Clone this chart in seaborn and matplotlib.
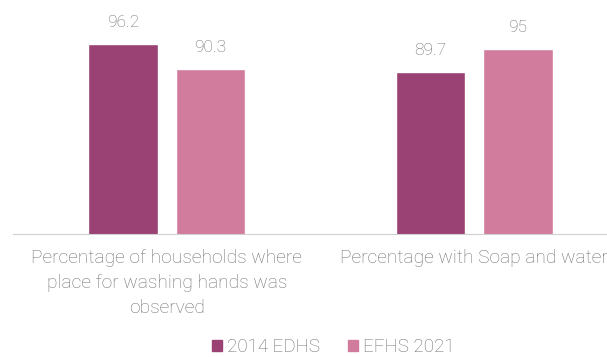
import pandas as pd
import numpy as np
import matplotlib.pyplot as plt
import seaborn as sns

categories = ["Percentage of households where\nplace for washing hands was\nobserved",
              "Percentage with Soap and water"]
series = ["2014 EDHS", "EFHS 2021"]
values_2014 = [96.2, 89.7]
values_2021 = [90.3, 95]

colors = ["#9a4274", "#d27c9d"]
text_color = "#707070"

df = pd.DataFrame({
    "category": categories * 2,
    "survey": [series[0]] * 2 + [series[1]] * 2,
    "value": values_2014 + values_2021,
})

sns.set_style("white")
plt.rcParams['font.family'] = ['Roboto', 'DejaVu Sans']
plt.rcParams['font.weight'] = 'light'

fig = plt.figure(figsize=(6.07, 3.57), dpi=100)
ax = fig.add_axes([13 / 607, 123 / 357, 615 / 607, 224 / 357])

sns.barplot(data=df, x="category", y="value", hue="survey", palette=colors,
            width=0.57, gap=0.21, ax=ax, legend=False, saturation=1)

ax.set_ylim(51.4, 104.2)
ax.set_xlim(-0.5, 1.5)
for c in ax.containers:
    ax.bar_label(c, labels=[f"{v:g}" for v in c.datavalues], padding=10,
                 fontsize=12.5, color=text_color)

ax.set_xlabel("")
ax.set_ylabel("")
ax.set_yticks([])
ax.tick_params(axis="x", length=0, pad=11, labelsize=13.8, labelcolor=text_color)
for lbl in ax.get_xticklabels():
    lbl.set_linespacing(1.5)
for side in ["top", "right", "left"]:
    ax.spines[side].set_visible(False)
ax.spines["bottom"].set_color("#d0d0d0")

handles = [plt.Rectangle((0, 0), 1, 1, color=c) for c in colors]
fig.legend(handles, series, loc="center", bbox_to_anchor=(333 / 607, 1 - 347 / 357),
           ncol=2, frameon=False, fontsize=13.5, labelcolor=text_color,
           handlelength=0.55, handleheight=0.55, handletextpad=0.25, columnspacing=1.5)

fig.savefig("out.png", dpi=100)
